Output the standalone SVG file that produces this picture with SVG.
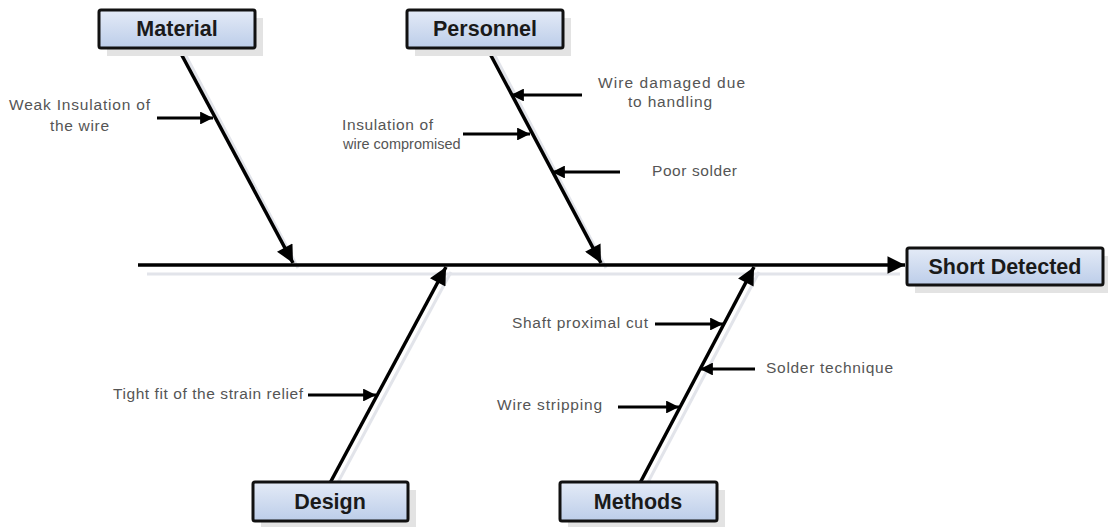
<svg xmlns="http://www.w3.org/2000/svg" width="1108" height="527" viewBox="0 0 1108 527">
<style>
.box{fill:url(#g);stroke:#111;stroke-width:3}
.sh{fill:#e3e3e3}
.lbl{font-family:"Liberation Sans",Arial,sans-serif;font-weight:bold;font-size:21.5px;fill:#1a1a1a;text-anchor:middle}
.t{font-family:"Liberation Sans",Arial,sans-serif;font-size:15.5px;fill:#555}
.bone{stroke:#000;stroke-width:3.5;fill:none}
.bsh{stroke:#e2e4ea;stroke-width:3;fill:none}
.sm{stroke:#000;stroke-width:3;fill:none}
</style>
<defs>
<linearGradient id="g" x1="0" y1="0" x2="0" y2="1">
<stop offset="0" stop-color="#e4ebf7"/>
<stop offset="1" stop-color="#bccde9"/>
</linearGradient>
<marker id="big" viewBox="0 0 10 10" refX="10" refY="5" markerWidth="5.5" markerHeight="5" orient="auto" markerUnits="strokeWidth">
<path d="M0,0 L10,5 L0,10 z" fill="#000"/>
</marker>
<marker id="sm" viewBox="0 0 10 10" refX="10" refY="5" markerWidth="5" markerHeight="4.3" orient="auto" markerUnits="strokeWidth">
<path d="M0,0 L10,5 L0,10 z" fill="#000"/>
</marker>
</defs>

<g id="connectors">
<line class="bsh" x1="147" y1="274" x2="900" y2="274"/>
<line class="bsh" x1="184" y1="52" x2="298" y2="268"/>
<line class="bsh" x1="493" y1="52" x2="606" y2="268"/>
<line class="bsh" x1="336" y1="486" x2="451" y2="272"/>
<line class="bsh" x1="646" y1="486" x2="759" y2="272"/>
<line class="bone" x1="138" y1="265" x2="905" y2="265" marker-end="url(#big)"/>
<line class="bone" x1="178" y1="48" x2="293" y2="263" marker-end="url(#big)"/>
<line class="bone" x1="487" y1="48" x2="601" y2="263" marker-end="url(#big)"/>
<line class="bone" x1="330" y1="483" x2="446" y2="267" marker-end="url(#big)"/>
<line class="bone" x1="640" y1="483" x2="754" y2="267" marker-end="url(#big)"/>
<line class="sm" x1="157" y1="118" x2="213" y2="118" marker-end="url(#sm)"/>
<line class="sm" x1="582" y1="95" x2="511" y2="95" marker-end="url(#sm)"/>
<line class="sm" x1="463" y1="134" x2="530" y2="134" marker-end="url(#sm)"/>
<line class="sm" x1="620" y1="172" x2="552" y2="172" marker-end="url(#sm)"/>
<line class="sm" x1="308" y1="395" x2="376" y2="395" marker-end="url(#sm)"/>
<line class="sm" x1="655" y1="324" x2="723" y2="324" marker-end="url(#sm)"/>
<line class="sm" x1="755" y1="369" x2="700" y2="369" marker-end="url(#sm)"/>
<line class="sm" x1="618" y1="407" x2="679" y2="407" marker-end="url(#sm)"/>
</g>

<g id="material">
<rect class="sh" x="107" y="18" width="156" height="38"/>
<rect class="box" x="99" y="10" width="156" height="38" rx="2"/>
<text class="lbl" x="177" y="36">Material</text>
</g>
<g id="personnel">
<rect class="sh" x="415" y="18" width="156" height="38"/>
<rect class="box" x="407" y="10" width="156" height="38" rx="2"/>
<text class="lbl" x="485" y="36">Personnel</text>
</g>
<g id="short-detected">
<rect class="sh" x="915" y="256" width="193" height="37"/>
<rect class="box" x="907" y="248" width="196" height="37" rx="2"/>
<text class="lbl" x="1005" y="274">Short Detected</text>
</g>
<g id="design">
<rect class="sh" x="261" y="490" width="155" height="37"/>
<rect class="box" x="253" y="482" width="155" height="39" rx="2"/>
<text class="lbl" x="330" y="509">Design</text>
</g>
<g id="methods">
<rect class="sh" x="568" y="490" width="157" height="37"/>
<rect class="box" x="560" y="482" width="157" height="39" rx="2"/>
<text class="lbl" x="638" y="509">Methods</text>
</g>

<g id="causes">
<text class="t" x="9" y="110" textLength="141" lengthAdjust="spacing">Weak Insulation of</text>
<text class="t" x="50" y="131" textLength="59" lengthAdjust="spacing">the wire</text>
<text class="t" x="598" y="88" textLength="147" lengthAdjust="spacing">Wire damaged due</text>
<text class="t" x="628" y="107" textLength="84" lengthAdjust="spacing">to handling</text>
<text class="t" x="342" y="130" textLength="91" lengthAdjust="spacing">Insulation of</text>
<text class="t" x="343" y="149" style="font-size:14.5px">wire compromised</text>
<text class="t" x="652" y="176" textLength="85" lengthAdjust="spacing">Poor solder</text>
<text class="t" x="113" y="399" textLength="190" lengthAdjust="spacing">Tight fit of the strain relief</text>
<text class="t" x="512" y="328" textLength="136" lengthAdjust="spacing">Shaft proximal cut</text>
<text class="t" x="766" y="373" textLength="127" lengthAdjust="spacing">Solder technique</text>
<text class="t" x="497" y="410" textLength="105" lengthAdjust="spacing">Wire stripping</text>
</g>
</svg>
